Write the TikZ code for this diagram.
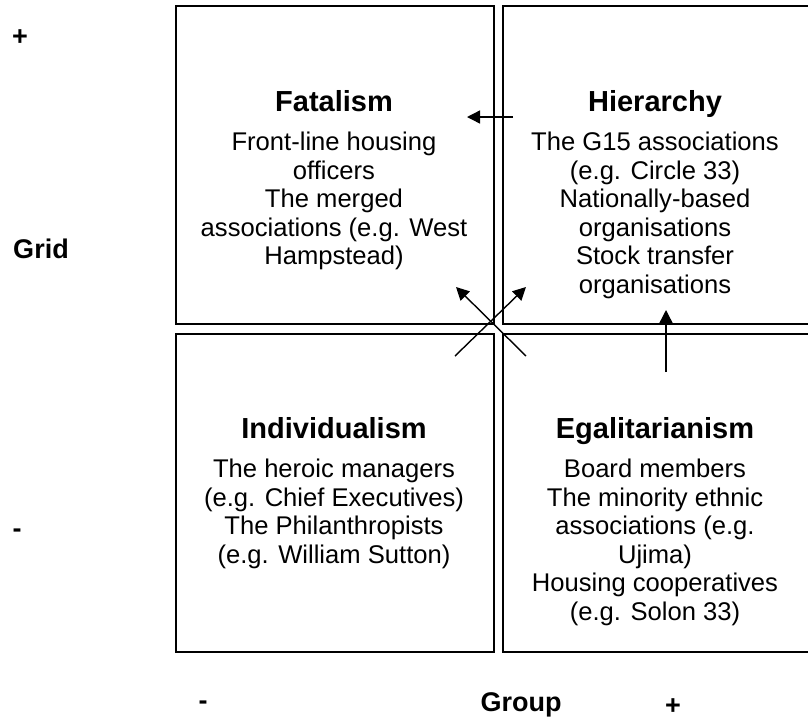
\documentclass[tikz,border=0pt]{standalone}
\usepackage{fontspec}
\setmainfont{Liberation Sans}
\usetikzlibrary{arrows.meta}
\begin{document}
\begin{tikzpicture}[x=0.5pt,y=-0.5pt]
      % Define styles for nodes
      \tikzstyle{cell} = [anchor=north west, draw, rectangle, inner sep=0pt,
      minimum width=159pt, minimum height=159pt, line width=0.8pt]
      \tikzstyle{culture} = [anchor=base, inner sep=0pt,
      font=\bfseries\fontsize{14.5}{17}\selectfont]
      \tikzstyle{members} = [anchor=north, inner sep=0pt, align=center,
      font=\fontsize{12.8}{14.25}\selectfont]
      \tikzstyle{axis} = [inner sep=0pt, font=\bfseries\fontsize{13.5}{15}\selectfont]
      \tikzstyle{move} = [-{Triangle[length=6.5pt,width=6.5pt]}, line width=0.7pt]

      \useasboundingbox (0,0) rectangle (808,719);
      \clip (0,0) rectangle (808,719);

      % The four cells
      \node[cell] (fatcell) at (175,5) {};
      \node[cell] (hiecell) at (502,5) {};
      \node[cell] (indcell) at (175,333) {};
      \node[cell] (egacell) at (502,333) {};

      % Cell titles
      \node[culture] (fat) at (334,111) {Fatalism};
      \node[culture] (hie) at (655,111) {Hierarchy};
      \node[culture] (ind) at (334,438) {Individualism};
      \node[culture] (ega) at (655,438) {Egalitarianism};

      % Cell contents
      \node[members] (fatlist) at (334,132) {Front-line housing\\officers\\The merged\\associations (e.g. West\\Hampstead)};
      \node[members] (hielist) at (655,132) {The G15 associations\\(e.g. Circle 33)\\Nationally-based\\organisations\\Stock transfer\\organisations};
      \node[members] (indlist) at (334,459) {The heroic managers\\(e.g. Chief Executives)\\The Philanthropists\\(e.g. William Sutton)};
      \node[members] (egalist) at (655,459) {Board members\\The minority ethnic\\associations (e.g.\\Ujima)\\Housing cooperatives\\(e.g. Solon 33)};

      % Axis labels
      \node[axis] (gridplus) at (20,38) {+};
      \node[axis] (grid) at (41,249) {Grid};
      \node[axis] (gridminus) at (17,533) {-};
      \node[axis] (groupminus) at (203,705) {-};
      \node[axis] (group) at (521,705) {Group};
      \node[axis] (groupplus) at (673,707) {+};

      % Movements between cultures
      \coordinate (h1) at (513,117);
      \coordinate (h2) at (467,117);
      \coordinate (v1) at (666,372);
      \coordinate (v2) at (666,310);
      \coordinate (c1) at (526,356);
      \coordinate (c2) at (456,287);
      \coordinate (c3) at (455,356);
      \coordinate (c4) at (526,287);
      \draw[move] (h1) -- (h2);
      \draw[move] (v1) -- (v2);
      \draw[move] (c1) -- (c2);
      \draw[move] (c3) -- (c4);

\end{tikzpicture}
\end{document}
